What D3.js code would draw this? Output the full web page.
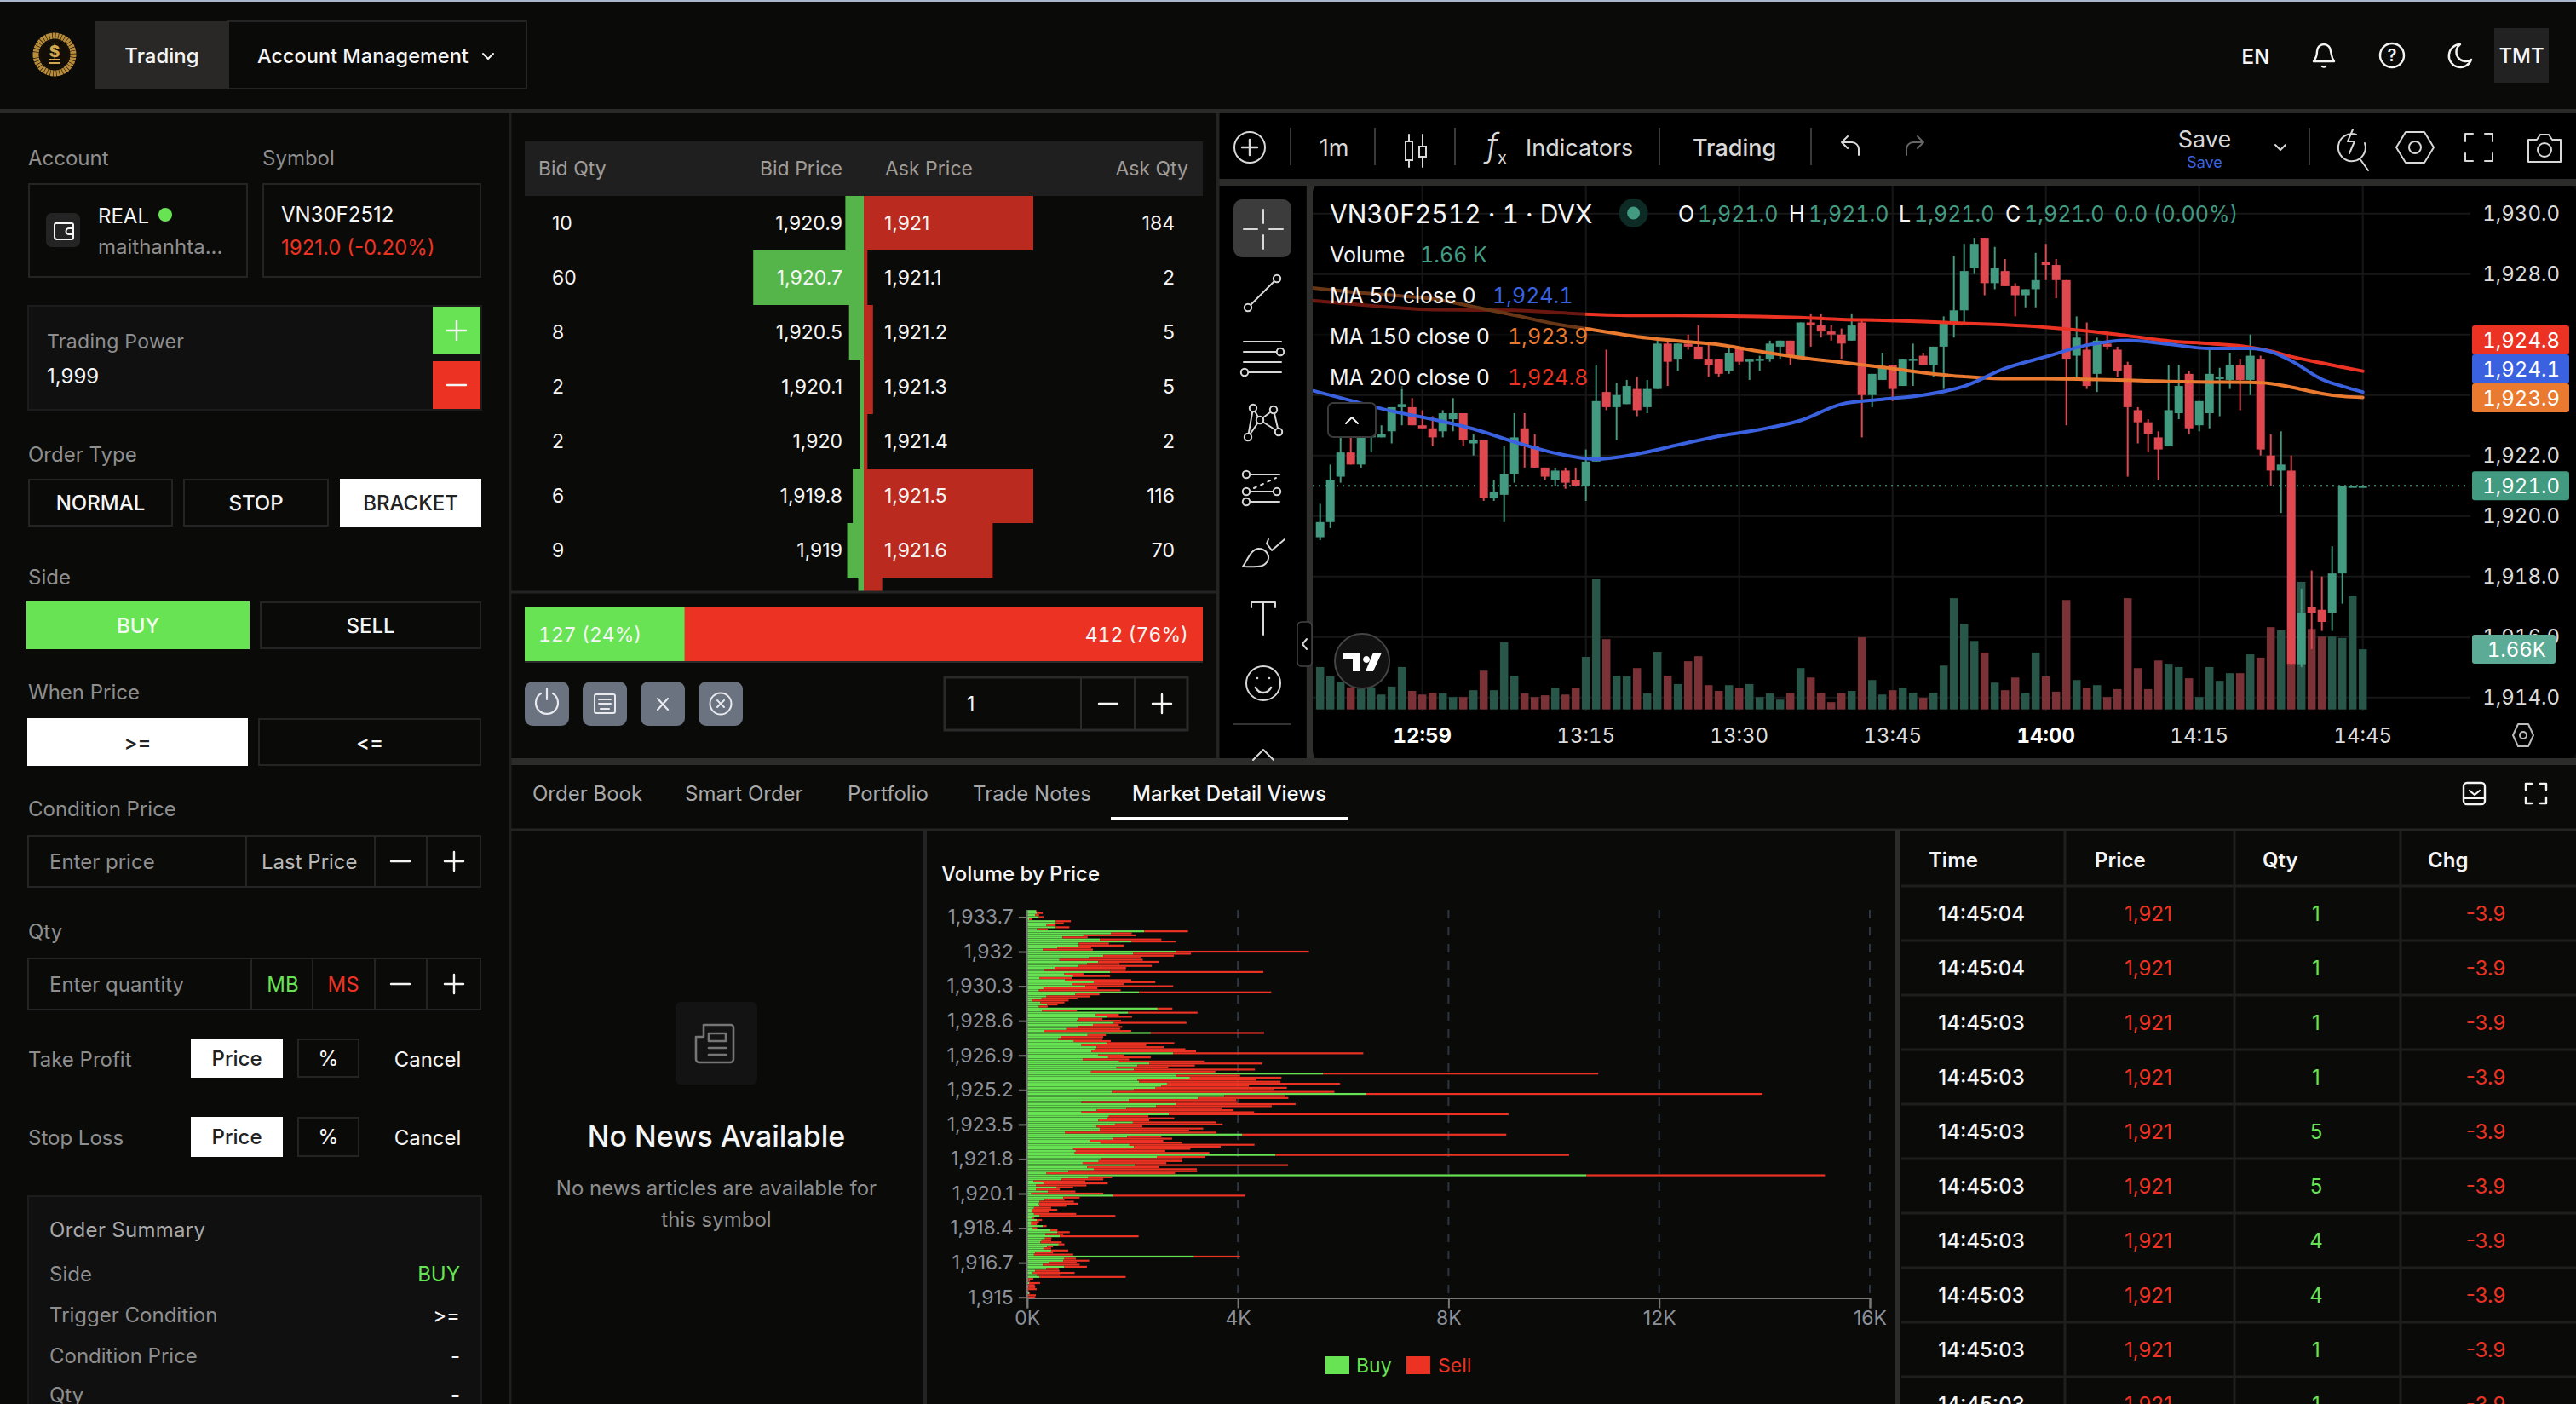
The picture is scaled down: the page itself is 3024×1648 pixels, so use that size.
<!DOCTYPE html>
<html>
<head>
<meta charset="utf-8">
<script src="https://cdn.jsdelivr.net/npm/d3@7"></script>
<style>
  html, body { margin: 0; padding: 0; background: #0a0a09; overflow: hidden; }
  svg { display: block; font-family: Inter, "Noto Sans", sans-serif; }
  .tnum { font-variant-numeric: tabular-nums; }
</style>
</head>
<body>
<svg id="app" width="3024" height="1648"></svg>
<script>
// ---- candles, index 0 is the first full candle on screen
const opens = [1919.3,1919.8,1921.3,1922.1,1921.7,1922.6,1922.6,1922.8,1923.6,1923.6,
  1923.0,1922.9,1922.8,1923.2,1923.4,1922.4,1922.5,1920.6,1920.7,1921.4,
  1922.9,1922.3,1921.6,1921.2,1921.5,1921.2,1921.0,1921.8,1924.1,1923.6,
  1923.7,1924.2,1923.6,1924.2,1925.7,1925.2,1925.7,1925.6,1925.2,1925.2,
  1924.8,1925.6,1925.1,1925.2,1925.2,1925.6,1925.8,1925.2,1926.4,1926.3,
  1926.1,1926.0,1925.8,1926.4,1924.0,1924.5,1925.0,1924.3,1925.2,1925.3,
  1925.0,1925.6,1926.4,1926.8,1928.2,1929.2,1927.7,1928.1,1927.6,1927.3,
  1927.5,1928.4,1928.3,1927.8,1925.3,1925.5,1924.7,1925.7,1925.5,1925.0,
  1923.5,1923.1,1922.6,1922.3,1923.4,1924.7,1923.0,1923.4,1924.6,1924.5,
  1925.0,1924.5,1925.2,1922.0,1921.5,1921.5,1915.1,1917.0,1916.9,1916.8,
  1918.1,1921.0,1921.0];
const highs = [1920.4,1921.7,1922.9,1922.6,1923.2,1923.2,1923.0,1923.6,1924.3,1923.9,
  1923.5,1923.3,1923.5,1923.9,1923.4,1922.7,1922.5,1921.2,1922.3,1923.4,
  1923.4,1922.7,1921.6,1921.6,1921.6,1921.6,1922.2,1925.0,1925.5,1924.4,
  1924.5,1924.6,1924.5,1925.8,1925.8,1925.7,1926.0,1926.3,1925.7,1925.2,
  1925.6,1925.6,1925.2,1925.3,1925.8,1925.8,1925.8,1926.4,1926.7,1926.7,
  1926.3,1926.2,1926.7,1926.5,1924.7,1925.4,1925.0,1925.2,1925.7,1925.4,
  1925.6,1926.6,1928.6,1929.0,1929.2,1929.2,1928.9,1928.5,1927.7,1927.5,
  1928.7,1929.0,1928.5,1927.8,1926.6,1926.4,1925.9,1926.1,1925.6,1925.1,
  1923.6,1923.2,1922.8,1925.0,1925.0,1924.8,1923.8,1925.5,1924.9,1925.4,
  1925.2,1926.0,1925.3,1922.7,1922.8,1922.0,1917.6,1918.2,1918.0,1919.0,
  1921.0,1921.0,1921.0];
const lows = [1919.2,1919.6,1921.1,1921.7,1921.6,1922.1,1922.6,1922.4,1923.0,1923.0,
  1922.9,1922.3,1922.6,1922.8,1922.3,1922.0,1920.5,1920.5,1919.8,1921.1,
  1921.6,1921.6,1921.2,1921.0,1920.9,1921.0,1920.5,1921.8,1923.5,1922.5,
  1923.7,1923.3,1923.4,1924.2,1924.3,1924.8,1925.5,1925.2,1924.6,1924.6,
  1924.7,1925.0,1924.5,1924.8,1925.1,1925.2,1925.0,1925.2,1925.6,1925.9,
  1925.8,1925.2,1925.8,1922.6,1923.6,1924.5,1923.8,1924.3,1924.3,1925.0,
  1924.6,1924.2,1925.9,1926.4,1928.0,1927.3,1927.5,1927.6,1926.6,1926.9,
  1926.9,1927.8,1927.2,1923.0,1924.5,1924.2,1924.1,1925.5,1924.6,1921.3,
  1922.4,1922.1,1921.2,1922.3,1923.2,1922.7,1922.8,1922.9,1923.3,1924.2,
  1923.5,1924.0,1922.0,1921.0,1920.1,1915.1,1915.0,1915.6,1916.2,1916.2,
  1917.1,1921.0,1921.0];
const closes = [1919.8,1921.2,1922.1,1921.7,1922.6,1922.7,1922.7,1923.6,1923.7,1923.0,
  1922.9,1922.6,1923.4,1923.4,1922.5,1922.5,1920.6,1920.8,1921.4,1922.6,
  1922.3,1921.6,1921.3,1921.5,1921.1,1921.0,1921.8,1923.8,1923.6,1924.0,
  1924.3,1923.5,1924.2,1925.7,1925.1,1925.7,1925.6,1925.2,1925.0,1924.7,
  1925.4,1925.1,1925.2,1925.2,1925.7,1925.8,1925.3,1926.4,1926.3,1926.1,
  1926.0,1925.7,1926.3,1924.0,1924.7,1924.9,1924.2,1925.2,1925.2,1925.0,
  1925.6,1926.4,1926.8,1928.1,1929.0,1927.7,1928.2,1927.6,1927.3,1927.5,
  1927.8,1928.3,1927.8,1925.2,1925.9,1924.3,1925.8,1925.6,1924.8,1923.6,
  1923.1,1922.7,1922.2,1923.5,1924.3,1922.9,1923.8,1924.7,1924.6,1925.0,
  1924.5,1925.3,1922.2,1921.5,1921.7,1915.1,1916.8,1916.8,1916.5,1918.1,
  1921.0,1921.0,1921.0];
const volumes = [1170,910,770,610,570,610,410,630,1170,510,
  410,460,440,340,340,530,1070,530,1850,930,
  440,340,390,600,410,580,1450,3590,1940,930,
  910,1140,440,1590,930,700,1330,1470,670,510,
  670,580,700,340,440,270,460,1140,880,460,
  200,440,510,1990,810,410,530,600,460,320,
  460,1210,3070,2360,1890,1570,740,530,880,460,
  1570,910,490,3020,810,600,670,340,560,3070,
  1140,560,1350,1260,1170,860,340,1170,790,1000,
  1000,1520,1430,2270,2180,1240,3520,2220,2010,2010,
  1970,3140,1660];

// moving averages, read at these candle indexes
const maIndex = [-1,3,7,11,15,19,23,27,31,35,39,43,47,51,55,59,63,67,71,75,79,83,87,91,93,95,98,100,102];
const ma50 = [1924.17,1923.82,1923.47,1923.20,1922.88,1922.45,1922.08,1921.88,1922.05,1922.35,
  1922.64,1922.86,1923.16,1923.70,1923.86,1924.00,1924.29,1924.88,1925.27,1925.65,
  1925.81,1925.68,1925.54,1925.54,1925.43,1925.13,1924.52,1924.29,1924.10];
const ma150 = [1927.55,1927.41,1927.30,1927.18,1926.92,1926.64,1926.35,1926.14,1925.93,1925.79,
  1925.67,1925.44,1925.24,1925.08,1924.92,1924.74,1924.61,1924.54,1924.54,1924.52,
  1924.49,1924.45,1924.43,1924.42,1924.38,1924.26,1924.05,1923.96,1923.92];
const ma200 = [1927.13,1927.01,1926.90,1926.82,1926.81,1926.80,1926.73,1926.66,1926.63,1926.63,
  1926.62,1926.60,1926.56,1926.50,1926.47,1926.43,1926.37,1926.32,1926.24,1926.12,
  1925.96,1925.79,1925.70,1925.58,1925.45,1925.27,1925.06,1924.92,1924.79];

const priceTicks = [1930,1928,1926,1924,1922,1920,1918,1916,1914];
const timeTickIndex = [10,26,41,56,71,86,102];
const timeTickLabels = ["12:59","13:15","13:30","13:45","14:00","14:15","14:45"];

// order book
const bidQty = [10,60,8,2,2,6,9,3];
const bidPrice = ["1,920.9","1,920.7","1,920.5","1,920.1","1,920","1,919.8","1,919"];
const askPrice = ["1,921","1,921.1","1,921.2","1,921.3","1,921.4","1,921.5","1,921.6"];
const askQty = [184,2,5,5,2,116,70,10];

// volume by price, one entry per 0.1 from 1934.0 down to 1915.0
const vbpBuy = [166,181,152,224,43,542,542,368,542,188,2224,1596,1069,671,1379,1986,982,982,570,296,
  2823,2014,1444,1177,614,1350,1141,982,527,325,1581,708,874,238,722,1264,852,1105,310,224,
  2130,917,368,274,94,253,383,224,2476,282,1921,1307,1523,975,946,1646,1249,960,744,325,
  2347,1148,635,585,888,1509,1032,1321,1307,1220,2772,1350,1538,1054,1747,2318,2094,1697,2029,1213,
  5617,2823,3090,2094,2130,2664,2549,2440,2029,1610,6433,3740,3242,1928,1032,2823,2448,1884,1321,1032,
  2693,1552,1523,1350,2007,1668,1321,1379,1379,715,4087,1899,1625,1191,1393,1942,2029,874,924,903,
  4715,2462,1408,1357,1054,2043,1141,1264,787,368,10621,1162,657,123,310,166,563,166,397,79,
  1625,686,332,238,224,238,130,94,94,130,238,108,181,79,79,296,108,440,570,347,
  621,339,274,253,599,383,310,455,152,130,3170,708,686,419,296,708,368,152,108,181,
  238,22,22,36,7,22,7,14,36,7,7];
const vbpSell = [14,116,72,87,51,289,152,173,260,202,830,390,996,477,1170,838,570,859,643,953,
  2527,1097,1343,975,1581,1148,614,1386,1350,1545,2902,361,700,606,1256,1170,982,1668,1025,1552,
  2505,455,830,679,693,455,195,166,282,664,1314,433,469,455,838,1379,491,845,1025,1653,
  2152,347,809,845,700,1285,1227,1271,1697,1986,3610,484,809,881,1610,2144,1090,982,2296,2361,
  5227,1220,1740,2253,2679,3278,1661,2491,2657,4224,7530,1162,1718,2043,2960,2274,2195,1805,2599,3278,
  6447,751,1271,967,1588,2043,866,1964,1694,2881,5011,650,1126,1393,1552,2375,1646,2224,1697,2556,
  5574,917,1538,1588,1588,2910,1357,1957,2440,2440,4527,448,787,982,1220,960,310,455,520,1365,
  2513,310,375,650,744,505,325,477,332,801,1437,29,101,144,108,72,79,137,238,339,
  1495,123,181,404,108,108,144,325,339,744,874,217,491,520,700,426,231,462,794,440,
  1632,94,29,209,137,130,173,14,14,159,144];
const vbpTicks = [1933.7,1932,1930.3,1928.6,1926.9,1925.2,1923.5,1921.8,1920.1,1918.4,1916.7,1915];
const vbpQtyTicks = [0,4000,8000,12000,16000];

// trades
const tradeTimes = ["14:45:04","14:45:04","14:45:03","14:45:03","14:45:03","14:45:03","14:45:03","14:45:03","14:45:03","14:45:03"];
const tradePrices = ["1,921","1,921","1,921","1,921","1,921","1,921","1,921","1,921","1,921","1,921"];
const tradeQtys = [1,1,1,1,5,5,4,4,1,1];
const tradeChgs = ["-3.9","-3.9","-3.9","-3.9","-3.9","-3.9","-3.9","-3.9","-3.9","-3.9"];

const GREEN = "#68e354", RED = "#ec3323", UP = "#429a80", DOWN = "#e04850";
const BORDER = "#242424", GRAY = "#8e8e8e", WHITE = "#f5f5f5";

const svg = d3.select("#app");

function rect(g, x, y, w, h, fill, opts = {}) {
  return g.append("rect").attr("x", x).attr("y", y).attr("width", w).attr("height", h)
    .attr("fill", fill || "none").attr("rx", opts.r || 0)
    .attr("stroke", opts.stroke || null).attr("stroke-width", opts.sw || null);
}
function text(g, x, y, str, opts = {}) {
  return g.append("text").attr("x", x).attr("y", y).text(str)
    .attr("dominant-baseline", "central")
    .attr("text-anchor", opts.anchor || "start")
    .attr("font-size", opts.size || 24)
    .attr("font-weight", opts.weight || 400)
    .attr("letter-spacing", opts.ls || null)
    .attr("fill", opts.fill || WHITE);
}
function path(g, d, stroke, sw = 2, fill = "none") {
  return g.append("path").attr("d", d).attr("stroke", stroke).attr("stroke-width", sw)
    .attr("fill", fill).attr("stroke-linecap", "round").attr("stroke-linejoin", "round");
}
function ring(g, cx, cy, r, stroke, sw = 2, fill = "none") {
  return g.append("circle").attr("cx", cx).attr("cy", cy).attr("r", r)
    .attr("fill", fill).attr("stroke", stroke).attr("stroke-width", sw);
}
function vline(g, x, y1, y2, color = BORDER, w = 2) {
  rect(g, x - w / 2, y1, w, y2 - y1, color);
}
function hline(g, x1, x2, y, color = BORDER, w = 2) {
  rect(g, x1, y - w / 2, x2 - x1, w, color);
}
function plusMinus(g, cx, cy, kind, color = WHITE, r = 11) {
  path(g, `M${cx - r},${cy}H${cx + r}` + (kind === "+" ? `M${cx},${cy - r}V${cy + r}` : ""), color, 2.4);
}

function drawFrame() {
  rect(svg, 0, 0, 3024, 1648, "#0a0a09");
  rect(svg, 0, 0, 3024, 2, "#aab6cc");
  hline(svg, 0, 3024, 130.5, "#2a2a29", 5);
  // chart panel background
  rect(svg, 1431, 133, 1593, 77, "#000");
  rect(svg, 1431, 218, 102, 672, "#000");
  rect(svg, 1431, 210, 1593, 8, "#2c2c2b");
  vline(svg, 1429.5, 133, 890, "#242423", 4);
  rect(svg, 1534, 218, 8, 672, "#2f2f2e");
  rect(svg, 1541, 218, 1483, 672, "#000", { r: 8 });
  rect(svg, 600, 890, 2424, 8, "#2c2c2b");
  vline(svg, 599, 133, 1648, "#1f1f1f", 3);
  hline(svg, 600, 3024, 974, BORDER, 3);
  vline(svg, 1086, 974, 1648, BORDER, 4);
  vline(svg, 2228, 974, 1648, "#2c2c2b", 6);
}

function drawTopBar() {
  const g = svg.append("g");
  ring(g, 64, 64, 22, "#b98c3a", 7).attr("stroke-dasharray", "3 0.6");
  ring(g, 64, 64, 17, "#1a1206", 1.5, "#120d05");
  text(g, 64, 60, "$", { anchor: "middle", size: 19, weight: 800, fill: "#d2a84f" });
  path(g, "M58,70h12M58,74h12", "#d2a84f", 2);
  rect(g, 268, 25, 350, 79, "none", { stroke: BORDER, sw: 2 });
  rect(g, 112, 25, 157, 79, "#2a2827");
  text(g, 190, 65, "Trading", { anchor: "middle", size: 24, weight: 500 });
  text(g, 302, 65, "Account Management", { size: 23.5, weight: 500 });
  path(g, "M567,63l6,6l6,-6", WHITE, 2);
  text(g, 2648, 66, "EN", { anchor: "middle", size: 24, weight: 600 });
  path(g, "M2716,72h24c-3,-4 -3,-8 -4,-12a8,8 0 0 0 -16,0c0,4 -1,8 -4,12zM2726,78a3,2 0 0 0 4,0", WHITE, 2.4);
  ring(g, 2808, 65, 14, WHITE, 2.4);
  text(g, 2808, 65, "?", { anchor: "middle", size: 20, weight: 600 });
  path(g, "M2888,52a13.5,13.5 0 1 0 13,18a11,11 0 0 1 -13,-18z", WHITE, 2.4);
  rect(g, 2928, 33, 64, 64, "#222");
  text(g, 2960, 65, "TMT", { anchor: "middle", size: 24, weight: 500 });
}

function drawOrderForm() {
  const g = svg.append("g");
  const label = (x, y, s) => text(g, x, y, s, { fill: GRAY, size: 24 });
  const box = (x, y, w, h) => rect(g, x + 1, y + 1, w - 2, h - 2, "none", { stroke: BORDER, sw: 2 });
  const btn = (x, y, w, h, s, on) => {
    if (on) rect(g, x, y, w, h, "#fff"); else box(x, y, w, h);
    text(g, x + w / 2, y + h / 2, s, { anchor: "middle", fill: on ? "#222" : WHITE, size: 24, weight: 500 });
  };

  label(33, 185, "Account");
  label(308, 185, "Symbol");
  box(33, 215, 258, 111);
  box(308, 215, 257, 111);
  rect(g, 54, 250, 40, 40, "#242424", { r: 7 });
  path(g, "M65,262h19a2,2 0 0 1 2,2v15a2,2 0 0 1 -2,2h-17a3,3 0 0 1 -3,-3v-14a2,2 0 0 1 2,-2zM86,268h-5a2,2 0 0 0 0,7h5", WHITE, 2);
  text(g, 115, 253, "REAL", { size: 24 });
  g.append("circle").attr("cx", 194).attr("cy", 252).attr("r", 8).attr("fill", GREEN);
  text(g, 115, 289, "maithanhta...", { fill: GRAY, size: 24 });
  text(g, 330, 251, "VN30F2512", { size: 24 });
  text(g, 330, 290, "1921.0 (-0.20%)", { fill: RED, size: 24 });

  rect(g, 33, 359, 532, 122, "#101010", { stroke: "#1c1c1c", sw: 2 });
  text(g, 55, 401, "Trading Power", { fill: GRAY, size: 23, ls: 0.3 });
  text(g, 55, 441, "1,999", { size: 24 });
  rect(g, 508, 360, 56, 56, GREEN);
  rect(g, 508, 424, 56, 56, RED);
  plusMinus(g, 536, 388, "+");
  plusMinus(g, 536, 452, "-");

  label(33, 533, "Order Type");
  btn(33, 562, 170, 56, "NORMAL");
  btn(215, 562, 171, 56, "STOP");
  btn(399, 562, 166, 56, "BRACKET", true);

  label(33, 677, "Side");
  rect(g, 31, 706, 262, 56, GREEN);
  text(g, 162, 734, "BUY", { anchor: "middle", size: 24, weight: 500, fill: "#f2fbef" });
  btn(305, 706, 260, 56, "SELL");

  label(33, 812, "When Price");
  btn(32, 843, 259, 56, ">=", true);
  btn(303, 843, 262, 56, "<=");

  label(33, 949, "Condition Price");
  box(32, 980, 533, 62);
  text(g, 58, 1011, "Enter price", { fill: GRAY, size: 24 });
  vline(g, 289, 981, 1041);
  text(g, 307, 1011, "Last Price", { fill: "#b8b8b8", size: 24 });
  vline(g, 440, 981, 1041);
  plusMinus(g, 470, 1011, "-");
  vline(g, 501, 981, 1041);
  plusMinus(g, 533, 1011, "+");

  label(33, 1093, "Qty");
  box(32, 1124, 533, 62);
  text(g, 58, 1155, "Enter quantity", { fill: GRAY, size: 24 });
  vline(g, 295, 1125, 1185);
  text(g, 332, 1155, "MB", { anchor: "middle", fill: GREEN, size: 24 });
  vline(g, 367, 1125, 1185);
  text(g, 403, 1155, "MS", { anchor: "middle", fill: RED, size: 24 });
  vline(g, 440, 1125, 1185);
  plusMinus(g, 470, 1155, "-");
  vline(g, 501, 1125, 1185);
  plusMinus(g, 533, 1155, "+");

  label(33, 1243, "Take Profit");
  btn(224, 1219, 108, 46, "Price", true);
  btn(349, 1219, 73, 46, "%");
  text(g, 502, 1243, "Cancel", { anchor: "middle", size: 24 });
  label(33, 1335, "Stop Loss");
  btn(224, 1311, 108, 47, "Price", true);
  btn(349, 1311, 73, 47, "%");
  text(g, 502, 1335, "Cancel", { anchor: "middle", size: 24 });

  rect(g, 33, 1404, 532, 260, "#101010", { stroke: "#1c1c1c", sw: 2 });
  text(g, 58, 1443, "Order Summary", { fill: "#a8a8a8", size: 24, ls: 0.3 });
  const rows = [["Side", "BUY", 1495], ["Trigger Condition", ">=", 1543], ["Condition Price", "-", 1591], ["Qty", "-", 1637]];
  rows.forEach(([k, v, y]) => {
    text(g, 58, y, k, { fill: GRAY, size: 24 });
    text(g, 540, y, v, { anchor: "end", size: 24, fill: v === "BUY" ? GREEN : WHITE });
  });
}

function drawOrderBook() {
  const g = svg.append("g");
  const top = 230, rowH = 64, mid = 1014;
  // the depth bars share one scale and stop at the width of the ask column
  const depth = d3.scaleLinear().domain([0, 92]).range([0, 199]).clamp(true);

  rect(g, 616, 166, 796, 64, "#1f1f1f");
  const head = { fill: "#a09c98", size: 23 };
  text(g, 632, 198, "Bid Qty", head);
  text(g, 989, 198, "Bid Price", { ...head, anchor: "end" });
  text(g, 1039, 198, "Ask Price", head);
  text(g, 1395, 198, "Ask Qty", { ...head, anchor: "end" });

  const barClip = g.append("clipPath").attr("id", "bookClip");
  rect(barClip, 600, top, 830, 694 - top);
  const bars = g.append("g").attr("clip-path", "url(#bookClip)");
  bars.selectAll("rect.bid").data(bidQty).join("rect").attr("class", "bid")
    .attr("x", d => mid - depth(d)).attr("y", (d, i) => top + i * rowH)
    .attr("width", d => depth(d)).attr("height", rowH).attr("fill", "#55b54a");
  bars.selectAll("rect.ask").data(askQty).join("rect").attr("class", "ask")
    .attr("x", mid).attr("y", (d, i) => top + i * rowH)
    .attr("width", d => depth(d)).attr("height", rowH).attr("fill", "#bb2a1f");

  const rowY = i => top + i * rowH + rowH / 2;
  const cell = { size: 23 };
  bidPrice.forEach((p, i) => {
    text(g, 648, rowY(i), bidQty[i], cell);
    text(g, 989, rowY(i), p, { ...cell, anchor: "end" });
    text(g, 1038, rowY(i), askPrice[i], cell);
    text(g, 1379, rowY(i), askQty[i], { ...cell, anchor: "end" });
  });
  hline(g, 600, 1428, 695, BORDER, 3);

  // buy and sell pressure
  const total = 127 + 412;
  const press = d3.scaleLinear().domain([0, total]).range([616, 1412]);
  rect(g, press(0), 712, press(127) - press(0) + 1, 64, GREEN);
  rect(g, press(127), 712, press(total) - press(127), 64, RED);
  hline(g, 616, 1412, 777, "#2a2a2a", 2);
  text(g, 632, 745, "127 (24%)", { size: 23 }).attr("class", "tnum");
  text(g, 1395, 745, "412 (76%)", { size: 23, anchor: "end" }).attr("class", "tnum");

  // action buttons
  const ic = "#e8eaee";
  [616, 684, 752, 820].forEach(x => rect(g, x, 800, 52, 52, "#6b7280", { r: 9 }));
  path(g, "M635,814a13,13 0 1 0 14,0M642,808v13", ic, 2.2);
  rect(g, 698, 815, 24, 22, "none", { stroke: ic, sw: 2, r: 2 });
  path(g, "M703,821h14M703,826h14M705,832h10", ic, 2);
  path(g, "M772,820l12,13M784,820l-12,13", ic, 2.2);
  ring(g, 846, 826, 12.5, ic, 2);
  path(g, "M842,822l8,8M850,822l-8,8", ic, 2);

  rect(g, 1109, 795, 285, 62, "none", { stroke: "#2a2a2a", sw: 3 });
  text(g, 1135, 826, "1", { size: 23 });
  vline(g, 1269, 796, 856, "#2a2a2a", 2);
  plusMinus(g, 1301, 826, "-");
  vline(g, 1332, 796, 856, "#2a2a2a", 2);
  plusMinus(g, 1364, 826, "+");
}

function drawChartToolbars() {
  const g = svg.append("g");
  const c = "#d8d8d8";
  const cy = 173;
  ring(g, 1467, cy, 18, c, 2);
  plusMinus(g, 1467, cy, "+", c, 9);
  [1515, 1614, 1708, 1948, 2126, 2711].forEach(x => vline(g, x, 150, 194, "#3a3a3a", 2));
  text(g, 1566, cy, "1m", { anchor: "middle", size: 27, fill: c });
  // candle icon
  path(g, "M1654,158v8m0,22v8M1670,158v14m0,12v12", c, 2);
  rect(g, 1650, 166, 8, 22, "none", { stroke: c, sw: 2 });
  rect(g, 1666, 172, 8, 12, "none", { stroke: c, sw: 2 });
  text(g, 1745, 170, "f", { size: 38, fill: c, weight: 300 }).attr("font-style", "italic");
  text(g, 1758, 185, "x", { size: 20, fill: c });
  text(g, 1791, cy, "Indicators", { size: 27, fill: c });
  text(g, 1987, cy, "Trading", { size: 27, fill: c, weight: 500 });
  path(g, "M2182,182v-7a8,8 0 0 0 -8,-8h-11m6,-7l-7,7l7,7", c, 2);
  path(g, "M2238,182v-7a8,8 0 0 1 8,-8h11m-6,-7l7,7l-7,7", "#666", 2);
  text(g, 2588, 163, "Save", { anchor: "middle", size: 27, fill: c });
  text(g, 2588, 190, "Save", { anchor: "middle", size: 18, fill: "#3b62e0" });
  path(g, "M2671,170l6,6l6,-6", c, 2);
  // alert zoom, settings, fullscreen, camera
  path(g, "M2766,158a16,16 0 1 0 10,10M2770,186l10,14M2762,152l-6,14h8l-6,14", c, 2);
  path(g, "M2824,155h22l11,18l-11,18h-22l-11,-18z", c, 2);
  ring(g, 2835, 173, 7, c, 2);
  path(g, "M2894,166v-9h9M2917,157h9v9M2926,180v9h-9M2903,189h-9v-9", c, 2);
  path(g, "M2968,164h10l4,-6h10l4,6h10v26h-38z", c, 2);
  ring(g, 2987, 176, 8, c, 2);

  // left drawing tools
  const x = 1483;
  const node = (px, py) => ring(g, px, py, 4.2, c, 2, "#000");
  rect(g, 1448, 234, 68, 68, "#3c3c3c", { r: 10 });
  path(g, `M${x},246v16M${x},276v16M1460,269h16M1490,269h16`, c, 2);
  path(g, "M1465,361L1499,327", c, 2);
  node(1465, 361); node(1499, 327);
  path(g, "M1460,401H1504M1460,413H1504M1460,425H1504M1460,437H1504", c, 2);
  node(1503, 413); node(1461, 437);
  path(g, "M1471,479L1465,513M1471,479L1479,493M1465,513L1479,493L1495,481L1501,507L1479,493", c, 2);
  [[1471, 479], [1495, 481], [1479, 493], [1501, 507], [1465, 513]].forEach(p => node(p[0], p[1]));
  path(g, "M1463,557H1502M1463,577H1499M1463,589H1502", c, 2);
  path(g, "M1472,573L1498,561", c, 2).attr("stroke-dasharray", "3 6");
  [[1463, 557], [1463, 577], [1499, 577], [1463, 589]].forEach(p => node(p[0], p[1]));
  path(g, "M1459,665C1465,657 1468,645 1477,644C1487,644 1492,653 1487,660C1482,667 1473,665 1459,665ZM1489,633L1487,638L1493,646L1508,633", c, 2);
  path(g, "M1469,713v-6h28v6M1483,707v38", c, 2);
  ring(g, x, 802, 20, c, 2);
  path(g, `M${x - 9},807c4,8 14,8 18,0M${x - 7},796v0M${x + 7},796v0`, c, 2.6);
  hline(g, 1448, 1516, 850, "#333", 2);
  path(g, `M${x - 12},892l12,-12l12,12`, c, 2);
  // collapse handle
  rect(g, 1523, 730, 17, 52, "#000", { stroke: "#444", sw: 1.5, r: 5 });
  path(g, "M1534,750l-5,6l5,6", c, 2);
}

function drawCandleChart() {
  const left = 1541, right = 2900, bottom = 890;
  const x = d3.scaleLinear().domain([0, 102]).range([1549.7, 2773.7]);
  const y = d3.scaleLinear().domain([1930, 1914]).range([250.7, 818.7]);
  const vol = d3.scaleLinear().domain([0, 3590]).range([832.7, 680]);
  const isUp = i => closes[i] >= opens[i];
  const data = d3.range(closes.length);

  const defs = svg.append("defs");
  rect(defs.append("clipPath").attr("id", "plotClip"), left, 218, right - left, bottom - 218);
  const g = svg.append("g").attr("clip-path", "url(#plotClip)");

  const grid = g.append("g");
  grid.selectAll("line.h").data(priceTicks).join("line").attr("class", "h")
    .attr("x1", left).attr("x2", right).attr("y1", y).attr("y2", y)
    .attr("stroke", "#171717").attr("stroke-width", 2);
  grid.selectAll("line.v").data(timeTickIndex).join("line").attr("class", "v")
    .attr("x1", x).attr("x2", x).attr("y1", 218).attr("y2", bottom - 55)
    .attr("stroke", "#171717").attr("stroke-width", 2);

  g.append("g").selectAll("rect").data(data).join("rect")
    .attr("x", i => x(i) - 4.75).attr("width", 9.5)
    .attr("y", i => vol(volumes[i])).attr("height", i => vol(0) - vol(volumes[i]))
    .attr("fill", i => isUp(i) ? "#285649" : "#7a3236");

  g.append("line").attr("x1", left).attr("x2", right).attr("y1", y(1921)).attr("y2", y(1921))
    .attr("stroke", UP).attr("stroke-width", 2).attr("stroke-dasharray", "2 5");

  g.append("g").selectAll("line").data(data).join("line")
    .attr("x1", x).attr("x2", x).attr("y1", i => y(highs[i])).attr("y2", i => y(lows[i]))
    .attr("stroke", i => isUp(i) ? UP : DOWN).attr("stroke-width", 2);
  g.append("g").selectAll("rect").data(data).join("rect")
    .attr("x", i => x(i) - 5).attr("width", 10)
    .attr("y", i => y(Math.max(opens[i], closes[i])))
    .attr("height", i => Math.max(2.5, Math.abs(y(opens[i]) - y(closes[i]))))
    .attr("fill", i => isUp(i) ? UP : DOWN);

  const maLine = d3.line().x((d, i) => x(maIndex[i])).y(d => y(d)).curve(d3.curveMonotoneX);
  [[ma200, RED], [ma150, "#e97a30"], [ma50, "#3a62e0"]].forEach(([vals, color]) => {
    g.append("path").attr("d", maLine(vals)).attr("fill", "none")
      .attr("stroke", color).attr("stroke-width", 4).attr("stroke-linecap", "round");
  });

  // legend sits on a translucent plate that dims what runs behind it
  rect(g, left, 333, 320, 124, "rgba(0,0,0,0.55)");

  const leg = svg.append("g").attr("class", "tnum");
  text(leg, 1561, 251, "VN30F2512 · 1 · DVX", { size: 30 });
  leg.append("circle").attr("cx", 1917.6).attr("cy", 250).attr("r", 17).attr("fill", "#0e2a24");
  leg.append("circle").attr("cx", 1917.6).attr("cy", 250).attr("r", 7.5).attr("fill", UP);
  const ohlc = [["O", 1970, 1993], ["H", 2100, 2123], ["L", 2229, 2247], ["C", 2354, 2376]];
  ohlc.forEach(([k, kx, vx]) => {
    text(leg, kx, 251, k, { size: 25 });
    text(leg, vx, 251, "1,921.0", { size: 25, fill: UP });
  });
  text(leg, 2482, 251, "0.0 (0.00%)", { size: 25, fill: UP });
  text(leg, 1561, 299, "Volume", { size: 25 });
  text(leg, 1667, 299, "1.66 K", { size: 25, fill: UP });
  text(leg, 1561, 347, "MA 50 close 0", { size: 25 });
  text(leg, 1752, 347, "1,924.1", { size: 25, fill: "#3a62e0" });
  text(leg, 1561, 395, "MA 150 close 0", { size: 25 });
  text(leg, 1770, 395, "1,923.9", { size: 25, fill: "#e97a30" });
  text(leg, 1561, 443, "MA 200 close 0", { size: 25 });
  text(leg, 1770, 443, "1,924.8", { size: 25, fill: RED });
  rect(leg, 1559, 473, 56, 40, "#000", { stroke: "#3a3a3a", sw: 2, r: 6 });
  path(leg, "M1580,497l7,-7l7,7", WHITE, 2);

  // tradingview badge
  leg.append("circle").attr("cx", 1599).attr("cy", 776).attr("r", 32).attr("fill", "#111").attr("stroke", "#444").attr("stroke-width", 2);
  leg.append("path").attr("fill", "#fff").attr("d", "M1577,766h20v22h-9v-14h-11zM1604,770a4,4 0 1 0 0.1,0zM1612,766h10l-10,22h-9z");

  // price axis
  const axis = svg.append("g").attr("class", "tnum");
  priceTicks.forEach(p => text(axis, 3005, y(p), d3.format(",.1f")(p), { anchor: "end", size: 24, fill: "#dcdcdc" }));
  // the moving average labels stack so that they stay readable
  const pill = (cy, color, label, w = 114) => {
    rect(axis, 2902, cy - 17, w, 34, color, { r: 3 });
    text(axis, 2902 + w - 11, cy, label, { anchor: "end", size: 24, fill: "#fff" });
  };
  pill(399, RED, "1,924.8");
  pill(433, "#3a62e0", "1,924.1");
  pill(467, "#e97a30", "1,923.9");
  pill(y(1921), UP, "1,921.0");
  pill(vol(1660), "#5cab96", "1.66K", 98);

  // time axis
  timeTickIndex.forEach((t, i) => {
    const major = timeTickLabels[i] === "12:59" || timeTickLabels[i] === "14:00";
    text(axis, x(t), 863, timeTickLabels[i], { anchor: "middle", size: 24, weight: major ? 700 : 400, fill: major ? "#fff" : "#dcdcdc" });
  });
  path(axis, "M2956,850h12l6,13l-6,13h-12l-6,-13z", "#bbb", 2);
  axis.append("circle").attr("cx", 2962).attr("cy", 863).attr("r", 4).attr("fill", "none").attr("stroke", "#bbb").attr("stroke-width", 2);
}

function drawTabs() {
  const g = svg.append("g");
  const tabs = [["Order Book", 625], ["Smart Order", 804], ["Portfolio", 995], ["Trade Notes", 1142]];
  tabs.forEach(([s, x]) => text(g, x, 931, s, { size: 24, fill: "#a8a8a8" }));
  text(g, 1329, 931, "Market Detail Views", { size: 24, weight: 500 });
  rect(g, 1304, 959, 278, 4, "#fff");
  rect(g, 2892, 919, 25, 25, "none", { stroke: WHITE, sw: 2.4, r: 4 });
  path(g, "M2899,928l6,5l6,-5M2892,937h25", WHITE, 2.2);
  path(g, "M2965,927v-7h7M2982,920h7v7M2989,936v7h-7M2972,943h-7v-7", WHITE, 2.4);
}

function drawNewsPanel() {
  const g = svg.append("g");
  rect(g, 793, 1176, 96, 97, "#131313", { r: 6 });
  path(g, "M826,1203h32a3,3 0 0 1 3,3v37a4,4 0 0 1 -4,4h-36a4,4 0 0 1 -4,-4v-26h9zM817,1217v26M832,1213h20v9h-20zM832,1230h20M832,1238h20", "#767676", 2.6);
  text(g, 841, 1333, "No News Available", { anchor: "middle", size: 34, weight: 500 });
  text(g, 841, 1394, "No news articles are available for", { anchor: "middle", size: 24, fill: GRAY });
  text(g, 841, 1431, "this symbol", { anchor: "middle", size: 24, fill: GRAY });
}

function drawVolumeByPrice() {
  const g = svg.append("g");
  const x = d3.scaleLinear().domain([0, 16000]).range([1205.8, 2195]);
  const y = d3.scaleLinear().domain([1915, 1934]).range([1522.7, 1069.3]);
  const levels = vbpBuy.map((d, i) => ({ price: 1934 - i * 0.1, buy: d, sell: vbpSell[i] }));

  text(g, 1105, 1025, "Volume by Price", { size: 24, weight: 500 });

  g.selectAll("line.grid").data(vbpQtyTicks.slice(1)).join("line").attr("class", "grid")
    .attr("x1", x).attr("x2", x).attr("y1", 1068).attr("y2", 1524)
    .attr("stroke", "#2b3543").attr("stroke-width", 2).attr("stroke-dasharray", "10 10");

  g.selectAll("rect.buy").data(levels).join("rect").attr("class", "buy")
    .attr("x", x(0)).attr("y", d => y(d.price) - 1.1).attr("height", 2.2)
    .attr("width", d => x(d.buy) - x(0)).attr("fill", GREEN);
  g.selectAll("rect.sell").data(levels).join("rect").attr("class", "sell")
    .attr("x", d => x(d.buy)).attr("y", d => y(d.price) - 1.1).attr("height", 2.2)
    .attr("width", d => x(d.buy + d.sell) - x(d.buy)).attr("fill", RED);

  const yAxis = g.append("g").attr("transform", "translate(1205.8,0)")
    .call(d3.axisLeft(y).tickValues(vbpTicks).tickSize(10).tickPadding(6).tickFormat(d3.format(",~f")));
  const xAxis = g.append("g").attr("transform", "translate(0,1523.5)")
    .call(d3.axisBottom(x).tickValues(vbpQtyTicks).tickSize(12).tickPadding(3).tickFormat(d => `${d / 1000}K`));
  [yAxis, xAxis].forEach(a => {
    a.selectAll("path, line").attr("stroke", "#777").attr("stroke-width", 2);
    a.selectAll("text").attr("fill", "#8c9098").attr("font-size", 23).attr("font-family", "Inter");
  });
  yAxis.select("path").attr("d", "M0,1068V1524");

  rect(g, 1556, 1592, 28, 21, GREEN);
  text(g, 1592, 1603, "Buy", { size: 23, fill: GREEN });
  rect(g, 1651, 1592, 28, 21, RED);
  text(g, 1688, 1603, "Sell", { size: 23, fill: RED });
}

function drawTrades() {
  const g = svg.append("g");
  [["Time", 2264], ["Price", 2459], ["Qty", 2656], ["Chg", 2850]].forEach(([s, x]) => {
    text(g, x, 1009, s, { size: 24, weight: 600 });
  });
  [2424, 2623, 2818].forEach(x => vline(g, x, 976, 1648, "#1f1f1f", 3));
  tradeTimes.forEach((t, i) => {
    const cy = 1072 + i * 64;
    hline(g, 2232, 3024, cy - 32, "#1f1f1f", 3);
    text(g, 2326, cy, t, { anchor: "middle", size: 24, weight: 500 });
    text(g, 2522, cy, tradePrices[i], { anchor: "middle", size: 24, fill: RED });
    text(g, 2719, cy, tradeQtys[i], { anchor: "middle", size: 24, fill: GREEN });
    text(g, 2918, cy, tradeChgs[i], { anchor: "middle", size: 24, fill: RED });
  });
}

drawFrame();
drawTopBar();
drawOrderForm();
drawOrderBook();
drawChartToolbars();
drawCandleChart();
drawTabs();
drawNewsPanel();
drawVolumeByPrice();
drawTrades();
</script>
</body>
</html>
